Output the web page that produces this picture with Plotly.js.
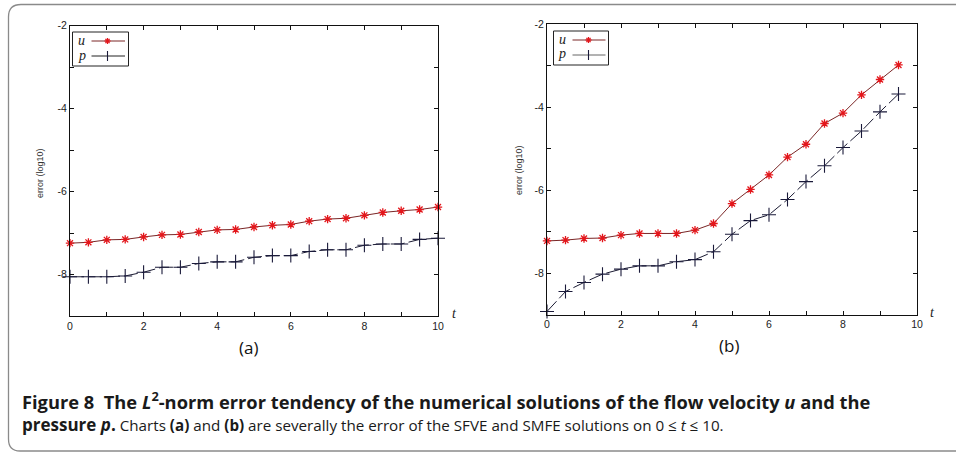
<!DOCTYPE html>
<html>
<head>
<meta charset="utf-8">
<script src="https://cdn.plot.ly/plotly-3.0.1.min.js"></script>
<style>
  html, body { margin: 0; padding: 0; background: #fff; }
  #fig { width: 956px; height: 452px; }
</style>
</head>
<body>
<div id="fig"></div>
<script>
// Chart (a): SFVE error history, log10 scale
const tA = [0, 0.5, 1, 1.5, 2, 2.5, 3, 3.5, 4, 4.5, 5, 5.5, 6, 6.5, 7, 7.5, 8, 8.5, 9, 9.5, 10];
const uA = [-7.24, -7.22, -7.16, -7.15, -7.09, -7.04, -7.03, -6.97, -6.92, -6.91, -6.85,
            -6.81, -6.79, -6.71, -6.66, -6.64, -6.57, -6.50, -6.46, -6.43, -6.37];
const pA = [-8.05, -8.05, -8.05, -8.03, -7.94, -7.82, -7.82, -7.73, -7.69, -7.69, -7.58,
            -7.54, -7.54, -7.44, -7.40, -7.40, -7.29, -7.26, -7.26, -7.15, -7.12];

// Chart (b): SMFE error history, log10 scale
const tB = [0, 0.5, 1, 1.5, 2, 2.5, 3, 3.5, 4, 4.5, 5, 5.5, 6, 6.5, 7, 7.5, 8, 8.5, 9, 9.5];
const uB = [-7.22, -7.20, -7.16, -7.15, -7.08, -7.04, -7.04, -7.04, -6.96, -6.80,
            -6.32, -5.98, -5.63, -5.20, -4.89, -4.39, -4.14, -3.70, -3.33, -2.98];
const pB = [-8.92, -8.44, -8.22, -8.02, -7.90, -7.82, -7.82, -7.72, -7.67, -7.48,
            -7.06, -6.73, -6.59, -6.22, -5.79, -5.41, -4.97, -4.57, -4.11, -3.68];

// Labelled ticks (unlabelled minor ticks fall on every unit)
const xTickVals = [0, 2, 4, 6, 8, 10];
const xTickText = ['0', '2', '4', '6', '8', '10'];
const yTickVals = [-8, -6, -4, -2];
const yTickText = ['-8', '-6', '-4', '-2'];

const W = 956, H = 452;
const px = v => v / W;
const py = v => 1 - v / H;

const U_LINE = '#7a2626';
const U_MARK = '#e3161b';
const P_LINE = '#1b1b33';
const P_MARK = '#1a1a3a';

function uTrace(t, v, xa, ya) {
  return {
    x: t, y: v, xaxis: xa, yaxis: ya, type: 'scatter', mode: 'lines+markers',
    cliponaxis: false, showlegend: false,
    line: { color: U_LINE, width: 1 },
    marker: { symbol: 'asterisk-open', size: 7, color: U_MARK, line: { color: U_MARK, width: 1.3 } }
  };
}
function pTrace(t, v, xa, ya) {
  return {
    x: t, y: v, xaxis: xa, yaxis: ya, type: 'scatter', mode: 'lines+markers',
    cliponaxis: false, showlegend: false,
    line: { color: P_LINE, width: 1, dash: '14px,4px' },
    marker: { symbol: 'cross-thin-open', size: 10, color: P_MARK, line: { color: P_MARK, width: 1.1 } }
  };
}

const data = [
  uTrace(tA, uA, 'x', 'y'),
  pTrace(tA, pA, 'x', 'y'),
  uTrace(tB, uB, 'x2', 'y2'),
  pTrace(tB, pB, 'x2', 'y2')
];

const tickFont = { family: 'Liberation Sans, Arial, sans-serif', size: 10.5, color: '#222' };
const minorTicks = { dtick: 1, ticks: 'inside', ticklen: 4, tickcolor: '#111', tickwidth: 1, showgrid: false };

function xAxis(d0, d1, anchor) {
  return {
    domain: [px(d0), px(d1)], anchor: anchor, range: [0, 10],
    tickmode: 'array', tickvals: xTickVals, ticktext: xTickText,
    ticks: 'inside', ticklen: 4, tickcolor: '#111', tickwidth: 1, minor: minorTicks,
    showline: true, linecolor: '#111', linewidth: 1, mirror: 'ticks',
    showgrid: false, zeroline: false, tickfont: tickFont, fixedrange: true
  };
}
function yAxis(top, bottom, anchor) {
  return {
    domain: [py(bottom), py(top)], anchor: anchor, range: [-9, -2],
    tickmode: 'array', tickvals: yTickVals, ticktext: yTickText,
    ticks: 'inside', ticklen: 4, tickcolor: '#111', tickwidth: 1, minor: minorTicks,
    showline: true, linecolor: '#111', linewidth: 1, mirror: 'ticks',
    showgrid: false, zeroline: false, tickfont: tickFont, fixedrange: true
  };
}

// Hand-drawn legend boxes (label on the left, key on the right)
function legendShapes(box, keyX0, keyX1, markX, yU, yP, pColor) {
  const s = [];
  s.push({ type: 'rect', xref: 'paper', yref: 'paper',
           x0: px(box[0]), x1: px(box[1]), y0: py(box[3]), y1: py(box[2]),
           line: { color: '#222', width: 1 }, fillcolor: 'rgba(255,255,255,0)' });
  s.push({ type: 'line', xref: 'paper', yref: 'paper', x0: px(keyX0), x1: px(keyX1),
           y0: py(yU), y1: py(yU), line: { color: U_LINE, width: 1 } });
  s.push({ type: 'line', xref: 'paper', yref: 'paper', x0: px(keyX0), x1: px(keyX1),
           y0: py(yP), y1: py(yP), line: { color: pColor, width: 1 } });
  // asterisk key
  const r = 3;
  [[r, 0], [0, r], [r * 0.7, r * 0.7], [r * 0.7, -r * 0.7]].forEach(([dx, dy]) => {
    s.push({ type: 'line', xref: 'paper', yref: 'paper',
             x0: px(markX - dx), x1: px(markX + dx), y0: py(yU - dy), y1: py(yU + dy),
             line: { color: U_MARK, width: 1.3 } });
  });
  // cross key
  s.push({ type: 'line', xref: 'paper', yref: 'paper', x0: px(markX), x1: px(markX),
           y0: py(yP - 5), y1: py(yP + 5), line: { color: P_MARK, width: 1.1 } });
  return s;
}

const shapes = [
  // rounded frame around the figure
  { type: 'path', xref: 'paper', yref: 'paper',
    path: `M ${px(970)} ${py(451)} L ${px(20)} ${py(451)} Q ${px(8.5)} ${py(451)} ${px(8.5)} ${py(439)} ` +
          `L ${px(8.5)} ${py(17)} Q ${px(8.5)} ${py(4.5)} ${px(21)} ${py(4.5)} L ${px(970)} ${py(4.5)}`,
    line: { color: '#8a8a8a', width: 1.3 } },
  ...legendShapes([72.5, 128.5, 32, 66], 91.5, 125, 107.5, 41, 56, '#222'),
  ...legendShapes([553.5, 608.5, 31, 65], 572.5, 605.5, 588.5, 40, 55, '#666')
];

const serif = { family: 'Liberation Serif, Times New Roman, serif', size: 14, color: '#222' };
const capFamily = 'Open Sans, Liberation Sans, sans-serif';

function ann(x, y, text, font, extra) {
  return Object.assign({ xref: 'paper', yref: 'paper', x: px(x), y: py(y), text: text,
                         xanchor: 'center', yanchor: 'middle',
                         showarrow: false, font: font }, extra || {});
}

const labelFont = { family: 'Liberation Sans, Arial, sans-serif', size: 9, color: '#333' };
const panelFont = { family: 'Open Sans, Liberation Sans, sans-serif', size: 17, color: '#111' };

const captionText =
  '<span style="font-size:18.3px"><b>Figure 8\u00a0\u00a0The <i>L</i><sup>2</sup>-norm error tendency of the numerical solutions of the flow velocity <i>u</i> and the</b></span>' +
  '<br><b>pressure <i>p</i>.</b><span style="font-size:15.2px"> Charts <b>(a)</b> and <b>(b)</b> are severally the error of the SFVE and SMFE solutions on 0 \u2264 <i>t</i> \u2264 10.</span>';

const annotations = [
  ann(81.5, 40.5, '<i>u</i>', serif),
  ann(81.5, 55, '<i>p</i>', serif),
  ann(562, 39.5, '<i>u</i>', serif),
  ann(562, 54, '<i>p</i>', serif),
  ann(454, 313, '<i>t</i>', serif),
  ann(932, 312, '<i>t</i>', serif),
  ann(40, 173, 'error (log10)', labelFont, { textangle: -90 }),
  ann(519, 170, 'error (log10)', labelFont, { textangle: -90 }),
  ann(248, 347, '(a)', panelFont),
  ann(729, 345, '(b)', panelFont),
  ann(20, 411.5, captionText, { family: capFamily, size: 17, color: '#1a1a1a' }, { xanchor: 'left', align: 'left' })
];

const layout = {
  width: W, height: H,
  margin: { l: 0, r: 0, t: 0, b: 0 },
  paper_bgcolor: '#fff', plot_bgcolor: '#fff',
  showlegend: false,
  xaxis: xAxis(70, 438, 'y'),
  yaxis: yAxis(25.7, 316.2, 'x'),
  xaxis2: xAxis(547, 917, 'y2'),
  yaxis2: yAxis(24.3, 314.8, 'x2'),
  shapes: shapes,
  annotations: annotations
};

Plotly.newPlot('fig', data, layout, { displayModeBar: false, staticPlot: true });
</script>
</body>
</html>
